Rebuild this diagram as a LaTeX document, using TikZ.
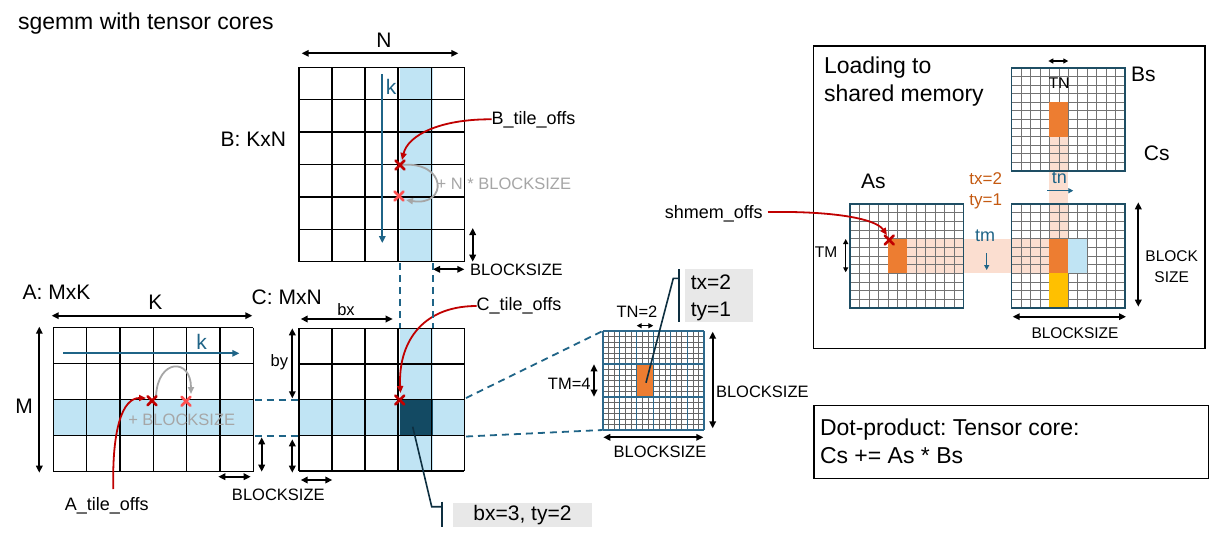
\documentclass[tikz,border=0pt]{standalone}
\usepackage{fontspec}
\setmainfont{Liberation Sans}
\usetikzlibrary{arrows.meta}
\frenchspacing

\definecolor{lblue}{RGB}{192,228,244}
\definecolor{dcell}{RGB}{19,74,99}
\definecolor{myteal}{RGB}{31,100,135}
\definecolor{gborder}{RGB}{30,78,100}
\definecolor{smaj}{RGB}{45,105,140}
\definecolor{orng}{RGB}{237,125,49}
\definecolor{peach}{RGB}{251,222,208}
\definecolor{yel}{RGB}{255,192,0}
\definecolor{dred}{RGB}{192,0,0}
\definecolor{lred}{RGB}{255,80,80}
\definecolor{garr}{RGB}{166,166,166}
\definecolor{cbox}{RGB}{232,232,232}
\definecolor{cline}{RGB}{14,47,64}
\definecolor{otext}{RGB}{197,90,17}

\newcommand\mgrid[7]{%
  \foreach \ii in {0,...,#3} {\draw[#7] ({#1+\ii*#5},{#2}) -- ({#1+\ii*#5},{#2+#4*#6});}
  \foreach \jj in {0,...,#4} {\draw[#7] ({#1},{#2+\jj*#6}) -- ({#1+#3*#5},{#2+\jj*#6});}
}

\tikzset{
  every node/.style={inner sep=0pt, outer sep=0pt},
  fA/.style={font=\fontsize{23}{27}\selectfont},
  fB/.style={font=\fontsize{21}{25}\selectfont},
  fC/.style={font=\fontsize{18}{21}\selectfont},
  fD/.style={font=\fontsize{16.5}{19}\selectfont},
  fE/.style={font=\fontsize{15.5}{18}\selectfont},
  dim/.style={black, line width=1.8pt, {Triangle[length=7pt,width=6.5pt]}-{Triangle[length=7pt,width=6.5pt]}},
  sdim/.style={black, line width=1.3pt, {Triangle[length=5pt,width=5pt]}-{Triangle[length=5pt,width=5pt]}},
  karrow/.style={myteal, line width=1.8pt, -{Triangle[length=7pt,width=6.5pt]}},
  tarrow/.style={myteal, line width=1.5pt, -{Triangle[length=5pt,width=5pt]}},
  redarrow/.style={dred, line width=1.8pt, -{Triangle[length=7pt,width=6pt]}},
  grayarrow/.style={garr, line width=1.8pt, -{Triangle[length=7pt,width=6pt]}},
  dashline/.style={myteal, line width=1.8pt, dash pattern=on 7pt off 5pt},
  bigline/.style={black, line width=1.4pt},
  fineline/.style={black!55, line width=0.5pt},
  pfine/.style={black!60, line width=0.55pt},
  callout/.style={cline, line width=1.6pt},
  xcross/.pic={\draw[line width=2.6pt, line cap=round, pic actions] (-4.5,-4.5)--(4.5,4.5) (-4.5,4.5)--(4.5,-4.5);},
}

\begin{document}
\begin{tikzpicture}[x=1pt,y=-1pt]
\useasboundingbox (0,0) rectangle (1211,544);
\fill[white] (0,0) rectangle (1211,544);

% ---------- title
\node[fA, anchor=west] (title) at (18,24) {sgemm with tensor cores};

% ---------- matrix B (K x N)
\fill[lblue] (399.7,67.3) rectangle (432.7,261.7);
\mgrid{299}{67.3}{5}{6}{33.06}{32.4}{bigline}
\node[fB] (Nlab) at (384,40) {N};
\draw[dim] (301.7,53.3) -- (458.3,53.3);
\node[fB, anchor=east] (Blab) at (286,139) {B: KxN};
\coordinate (kBs) at (382.3,74);
\coordinate (kBe) at (382.3,243);
\draw[karrow] (kBs) -- (kBe);
\node[fB, text=myteal] (kB) at (391,87) {k};
\coordinate (Bx1) at (400,165);
\coordinate (Bx2) at (399,196);
\node[fC, anchor=west] (Btile) at (491.7,119.3) {B\_tile\_offs};
\draw[redarrow] (Btile.west) .. controls (440,119) and (408,135) .. (402,160);
\draw[grayarrow] (Bx1) .. controls (448,160) and (448,207) .. (406,200);
\pic[dred] at (Bx1) {xcross};
\pic[lred] at (Bx2) {xcross};
\node[fD, text=garr, anchor=west] (BNB) at (436.7,184.3) {+ N * BLOCKSIZE};
\draw[dim] (472.7,228) -- (472.7,261.7);
\draw[dim] (433,269.3) -- (464.3,269.3);
\node[fD, anchor=west] (Bbs) at (470,270) {BLOCKSIZE};

% ---------- matrix A (M x K)
\fill[lblue] (53.3,400) rectangle (253.3,435.7);
\mgrid{53.3}{327.7}{6}{4}{33.33}{36}{bigline}
\node[fB, anchor=west] (Alab) at (22.7,292) {A: MxK};
\node[fB] (Klab) at (155.3,302.7) {K};
\draw[dim] (51.7,315.7) -- (252.3,315.7);
\node[fB] (Mlab) at (24,406) {M};
\draw[dim] (39.3,326.7) -- (39.3,472.7);
\coordinate (kAs) at (63.3,353.3);
\coordinate (kAe) at (239.3,353.3);
\draw[karrow] (kAs) -- (kAe);
\node[fB, text=myteal] (kA) at (201.7,341.7) {k};
\node[fD, text=garr] (ABS) at (181.7,420) {+ BLOCKSIZE};
\coordinate (Ax1) at (152,400.7);
\coordinate (Ax2) at (186,401.3);
\draw[grayarrow] (156,396) .. controls (158,358) and (191,358) .. (191,394);
\node[fC] (Atile) at (106.7,506) {A\_tile\_offs};
\draw[redarrow] (113.3,489) .. controls (112,430) and (122,398) .. (146,398);
\pic[dred] at (Ax1) {xcross};
\pic[lred] at (Ax2) {xcross};
\draw[dim] (261.7,437.3) -- (261.7,471.7);
\draw[dim] (218.3,476.7) -- (250.7,476.7);
\node[fD] (ACbs) at (278.3,495) {BLOCKSIZE};

% ---------- matrix C (M x N)
\fill[lblue] (399.7,328.3) rectangle (432.7,471.1);
\fill[lblue] (299,399.7) rectangle (464.3,435.4);
\fill[dcell] (399.7,399.7) rectangle (432.7,435.4);
\mgrid{299}{328.3}{5}{4}{33.06}{35.7}{bigline}
\node[fB, anchor=west] (Clab) at (251.7,297.5) {C: MxN};
\node[fD] (bxlab) at (346,309.3) {bx};
\draw[dim] (300.7,319) -- (392.7,319);
\node[fD] (bylab) at (279.3,362.7) {by};
\draw[dim] (292.3,328.3) -- (292.3,398.3);
\draw[dim] (292.3,439.3) -- (292.3,472.7);
\draw[dim] (300.7,480) -- (332.3,480);
\coordinate (Cx) at (399.7,400);
\node[fC, anchor=west] (Ctile) at (476.7,306) {C\_tile\_offs};
\draw[redarrow] (Ctile.west) .. controls (420,306) and (398,345) .. (400.5,393);
\pic[dred] at (Cx) {xcross};

% dashed guides
\draw[dashline] (399.7,263) -- (399.7,328.3);
\draw[dashline] (432.7,263) -- (432.7,328.3);
\draw[dashline] (254.5,400) -- (299,400);
\draw[dashline] (254.5,435.7) -- (299,435.7);
\coordinate (S1) at (602.7,331);
\coordinate (S2) at (602.7,430);
\draw[dashline] (466,398) -- (S1);
\draw[dashline] (466,436.5) -- (S2);

% callout bx=3, ty=2
\fill[cbox] (453.3,503.3) rectangle (591.7,527.3);
\node[fB] (bxty) at (522.5,515.3) {bx=3, ty=2};
\draw[callout] (412.7,426.7) -- (431.7,506.7) -- (441.7,506.7);
\draw[callout] (441.7,501.5) -- (441.7,527);

% ---------- small block grid
\mgrid{602.7}{331}{18}{18}{5.644}{5.5}{pfine}
\fill[orng] (636.6,364) rectangle (653.5,397);
\mgrid{602.7}{331}{6}{3}{16.93}{33}{smaj, line width=1.6pt}
\node[fD] (TN2) at (637,311.7) {TN=2};
\draw[sdim] (636.7,325.7) -- (653.3,325.7);
\node[fD] (TM4) at (569.3,384) {TM=4};
\draw[dim] (594,364.3) -- (594,396.7);
\draw[dim] (712.7,331.7) -- (712.7,428.3);
\node[fD, anchor=west] (Sbs1) at (716,392) {BLOCKSIZE};
\draw[dim] (603.3,437.3) -- (703.3,437.3);
\node[fD] (Sbs2) at (660,452.3) {BLOCKSIZE};
% callout tx ty
\fill[cbox] (685,269.3) rectangle (753.3,321.7);
\node[fB] (tx1) at (711,282.7) {tx=2};
\node[fB] (ty1) at (711,311.7) {ty=1};
\draw[callout] (646,382.7) -- (673.3,278.3) -- (679,278.3);
\draw[callout] (679,269) -- (679,321.7);

% ---------- right panel
\draw[black, line width=1.5pt] (813.3,46) rectangle (1205,348.3);
\node[fA, anchor=west] (load1) at (824,68) {Loading to};
\node[fA, anchor=west] (load2) at (824,95.5) {shared memory};
% peach paths
\fill[peach] (1049.3,136.9) rectangle (1068.2,238.6);
\fill[peach] (906.7,238.6) rectangle (1049.3,273.2);
% fine grids
\mgrid{1011.5}{67.7}{12}{12}{9.45}{8.6}{fineline}
\mgrid{850}{204}{12}{12}{9.45}{8.65}{fineline}
\mgrid{1011.5}{204}{12}{12}{9.45}{8.65}{fineline}
% highlighted tiles
\fill[orng] (1049.3,102.1) rectangle (1068.2,136.9);
\fill[orng] (887.8,238.6) rectangle (906.7,273.2);
\fill[orng] (1049.3,238.6) rectangle (1068.2,273.2);
\fill[yel] (1049.3,273.2) rectangle (1068.2,307.6);
\fill[lblue] (1068.2,238.6) rectangle (1087.1,273.2);
% borders
\draw[gborder, line width=1.6pt] (1011.5,67.7) rectangle (1124.9,170.9);
\draw[gborder, line width=1.6pt] (850,204) rectangle (963.4,307.8);
\draw[gborder, line width=1.6pt] (1011.5,204) rectangle (1124.9,307.8);
\node[fE] (TNp) at (1059.3,83) {TN};
\draw[sdim] (1048.3,61) -- (1068.3,61);
\node[fB] (Bs) at (1143.3,74.3) {Bs};
\node[fB] (Cs) at (1156.7,153.3) {Cs};
\node[fB] (As) at (873.3,181.7) {As};
\node[font=\fontsize{17}{20}\selectfont, text=otext] (tx2) at (985.7,178.3) {tx=2};
\node[font=\fontsize{17}{20}\selectfont, text=otext] (ty2) at (985.7,201.7) {ty=1};
\node[fC, text=myteal] (tn) at (1059.3,178) {tn};
\draw[tarrow] (1047.3,190.7) -- (1073.3,190.7);
\node[fC, text=myteal] (tm) at (985,236) {tm};
\draw[tarrow] (986.7,253.3) -- (986.7,270);
\node[fE] (TMp) at (826,252.3) {TM};
\draw[sdim] (845.7,239) -- (845.7,272.3);
\draw[dim] (1138.3,202.3) -- (1138.3,306.7);
\node[fE] (blk) at (1171.7,256) {BLOCK};
\node[fE] (siz) at (1171.7,277.3) {SIZE};
\draw[dim] (1012.7,316.7) -- (1126,316.7);
\node[fE] (Pbs) at (1075,333.3) {BLOCKSIZE};
\coordinate (Sx) at (889.3,240);
\node[fC] (shm) at (713.7,213.3) {shmem\_offs};
\draw[redarrow] (768,212) .. controls (830,211) and (875,218) .. (887,235);
\pic[dred] at (Sx) {xcross};

% ---------- dot product box
\draw[black, line width=1.5pt] (814,405.7) rectangle (1208.3,478.3);
\node[fA, anchor=west] (dp1) at (820,429.5) {Dot-product: Tensor core:};
\node[fA, anchor=west] (dp2) at (820,456) {Cs += As * Bs};
\end{tikzpicture}
\end{document}
